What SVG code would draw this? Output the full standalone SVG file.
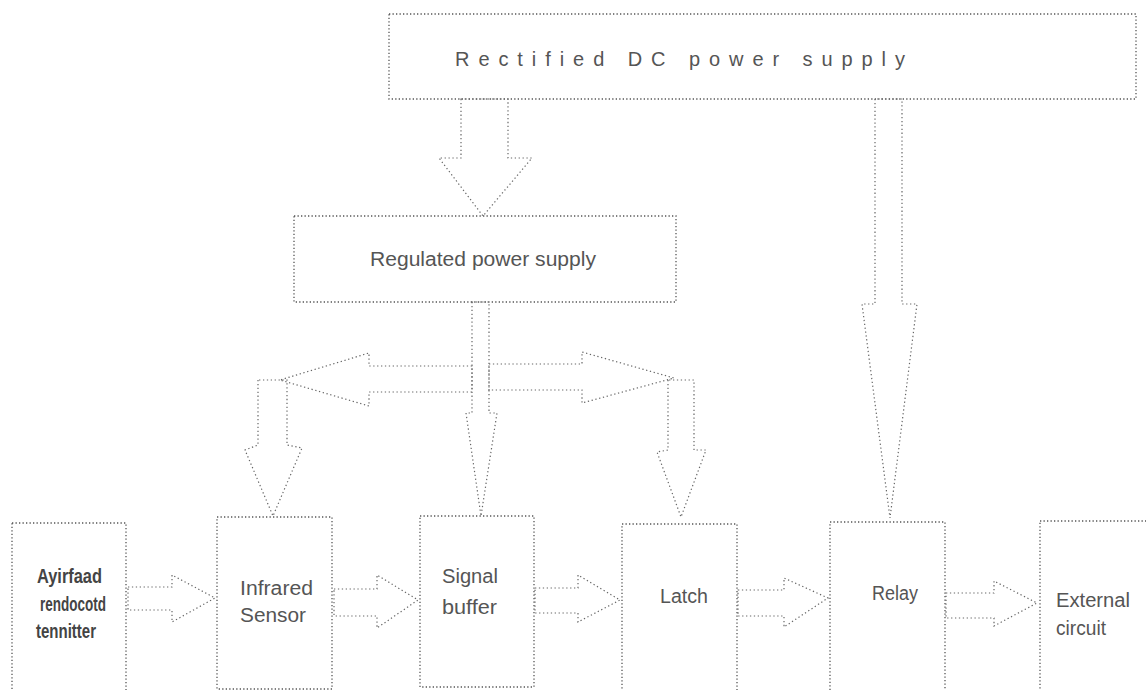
<svg xmlns="http://www.w3.org/2000/svg" width="1146" height="690" viewBox="0 0 1146 690">
<style>
.box{fill:none;stroke:#555;stroke-width:1.3;stroke-dasharray:1.3 2.2}
.arr{fill:none;stroke:#666;stroke-width:1.2;stroke-dasharray:1.3 2.6}
.t{font-family:"Liberation Sans",Arial,sans-serif;fill:#555;font-size:20px}
.d{font-size:21px;fill:#444;font-weight:bold}
</style>
<rect width="1146" height="690" fill="#fff"/>
<g id="rectified">
<rect class="box" x="389" y="14" width="747" height="85"/>
<text class="t" x="455" y="66" font-size="19" textLength="450" lengthAdjust="spacing" fill="#888">Rectified DC power supply</text>
</g>
<g id="regulated">
<rect class="box" x="294" y="216" width="382" height="86"/>
<text class="t" x="370" y="266" font-size="22" textLength="226" lengthAdjust="spacingAndGlyphs">Regulated power supply</text>
</g>
<g id="transmitter">
<rect class="box" x="12" y="523" width="114" height="172"/>
<text class="t d" x="37" y="583" textLength="65" lengthAdjust="spacingAndGlyphs">Ayirfaad</text>
<text class="t d" x="40" y="611" textLength="66" lengthAdjust="spacingAndGlyphs">rendocotd</text>
<text class="t d" x="36" y="638" textLength="60" lengthAdjust="spacingAndGlyphs">tennitter</text>
</g>
<g id="sensor">
<rect class="box" x="217" y="517" width="115" height="172"/>
<text class="t" x="240" y="595" textLength="73" lengthAdjust="spacingAndGlyphs">Infrared</text>
<text class="t" x="240" y="622" textLength="66" lengthAdjust="spacingAndGlyphs">Sensor</text>
</g>
<g id="buffer">
<rect class="box" x="420" y="516" width="114" height="171"/>
<text class="t" x="442" y="583" textLength="56" lengthAdjust="spacingAndGlyphs">Signal</text>
<text class="t" x="442" y="614" textLength="55" lengthAdjust="spacingAndGlyphs">buffer</text>
</g>
<g id="latch">
<rect class="box" x="622" y="524" width="115" height="172"/>
<text class="t" x="660" y="603" textLength="48" lengthAdjust="spacingAndGlyphs">Latch</text>
</g>
<g id="relay">
<rect class="box" x="830" y="522" width="115" height="172"/>
<text class="t" x="872" y="600" textLength="46" lengthAdjust="spacingAndGlyphs">Relay</text>
</g>
<g id="external">
<rect class="box" x="1040" y="521" width="110" height="175"/>
<text class="t" x="1056" y="607" textLength="74" lengthAdjust="spacingAndGlyphs">External</text>
<text class="t" x="1056" y="635" textLength="50" lengthAdjust="spacingAndGlyphs">circuit</text>
</g>
<g id="connectors">
<polygon class="arr" points="461,99 461,158 439,158 483,216 532,158 508,158 508,99"/>
<polygon class="arr" points="875,99 875,304 862,304 890,518 917,304 902,304 902,99"/>
<polygon class="arr" points="472,302 472,413 466,413 481,516 497,413 489,413 489,302"/>
<polygon class="arr" points="472,366 369,366 369,353 280,380 369,406 369,392 472,392"/>
<polygon class="arr" points="489,364 582,364 582,352 674,378 582,403 582,390 489,390"/>
<polygon class="arr" points="258,380 258,445 245,450 273,516 302,448 287,445 287,380"/>
<polygon class="arr" points="668,380 668,450 657,452 681,517 706,450 694,450 694,380"/>
<polygon class="arr" points="128,587 172,587 172,575 215,598 172,622 172,610 128,610"/>
<polygon class="arr" points="334,589 377,589 377,575 418,600 377,628 377,616 334,616"/>
<polygon class="arr" points="535,588 578,588 578,575 620,600 578,622 578,613 535,613"/>
<polygon class="arr" points="738,590 784,590 784,578 828,598 784,627 784,616 738,616"/>
<polygon class="arr" points="946,593 994,593 994,581 1037,603 994,626 994,618 946,618"/>
</g>
</svg>
